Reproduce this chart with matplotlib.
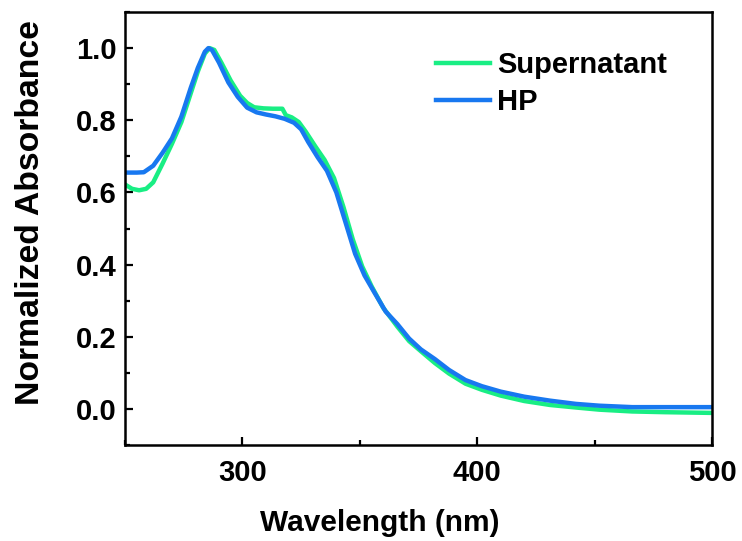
import matplotlib
matplotlib.use("Agg")
import matplotlib.pyplot as plt
from matplotlib.ticker import MultipleLocator

plt.rcParams['font.family'] = ['Liberation Sans', 'DejaVu Sans']
plt.rcParams['font.weight'] = 'bold'

# Normalized UV-Vis absorbance spectra
hp_wl = [250, 255, 258, 262, 266, 270, 274, 278, 281, 284, 285.5, 287, 290, 294,
         298, 302, 306, 310, 314, 318, 322, 325, 328, 332, 336, 340, 344, 348,
         352, 356, 361, 366, 371, 376, 382, 388, 395, 402, 410, 420, 431, 442,
         452, 466, 480, 500]
hp_abs = [0.655, 0.655, 0.656, 0.674, 0.71, 0.75, 0.81, 0.89, 0.945, 0.99, 1.0,
          0.995, 0.96, 0.905, 0.865, 0.835, 0.822, 0.816, 0.811, 0.804, 0.793,
          0.775, 0.74, 0.698, 0.66, 0.60, 0.515, 0.43, 0.37, 0.325, 0.27, 0.235,
          0.195, 0.165, 0.138, 0.108, 0.08, 0.063, 0.048, 0.034, 0.023, 0.014,
          0.009, 0.005, 0.005, 0.005]

sup_wl = [250, 253, 256, 259, 262, 266, 270, 274, 278, 281, 284, 286, 288, 291,
          295, 299, 302, 305, 309, 313, 317, 318.5, 321, 324, 327, 331, 335, 339,
          343, 347, 351, 355, 360, 366, 371, 376, 382, 388, 395, 402, 410, 420,
          431, 442, 452, 466, 480, 500]
sup_abs = [0.622, 0.610, 0.606, 0.61, 0.628, 0.68, 0.735, 0.795, 0.875, 0.935,
           0.985, 1.0, 0.995, 0.96, 0.91, 0.868, 0.848, 0.836, 0.833, 0.832,
           0.832, 0.814, 0.808, 0.795, 0.768, 0.728, 0.69, 0.64, 0.56, 0.47,
           0.395, 0.34, 0.28, 0.228, 0.188, 0.16, 0.127, 0.098, 0.07, 0.053,
           0.037, 0.022, 0.011, 0.004, -0.002, -0.007, -0.009, -0.011]

fig = plt.figure(figsize=(7.42, 5.41), dpi=100)
ax = fig.add_axes([0.1685, 0.1774, 0.7911, 0.8004])

ax.plot(sup_wl, sup_abs, color='#19EE84', lw=3.2, label='Supernatant')
ax.plot(hp_wl, hp_abs, color='#1878F0', lw=3.2, label='HP')

ax.set_xlim(250, 500)
ax.set_ylim(-0.1, 1.1)
ax.xaxis.set_major_locator(MultipleLocator(100))
ax.xaxis.set_minor_locator(MultipleLocator(50))
ax.set_yticks([0.0, 0.2, 0.4, 0.6, 0.8, 1.0])
ax.yaxis.set_minor_locator(MultipleLocator(0.1))

for s in ax.spines.values():
    s.set_linewidth(1.8)
ax.tick_params(which='both', direction='in', top=False, right=False,
               width=1.6, labelsize=21)
ax.tick_params(which='major', length=6)
ax.tick_params(which='minor', length=3.5)
ax.tick_params(axis='y', pad=6)
ax.tick_params(axis='x', pad=10)

ax.set_xlabel('Wavelength (nm)', fontsize=21.5, fontweight='bold')
ax.set_ylabel('Normalized Absorbance', fontsize=24.3, fontweight='bold')
ax.xaxis.set_label_coords(0.434, -0.148)
ax.yaxis.set_label_coords(-0.134, 0.536)

leg = ax.legend(loc='upper left', bbox_to_anchor=(0.529, 0.909), frameon=False,
                fontsize=21, handlelength=1.85, handletextpad=0.25,
                labelspacing=0.3, borderpad=0, borderaxespad=0)
for line in leg.get_lines():
    line.set_linewidth(3.2)

fig.savefig('out.png', dpi=100)
